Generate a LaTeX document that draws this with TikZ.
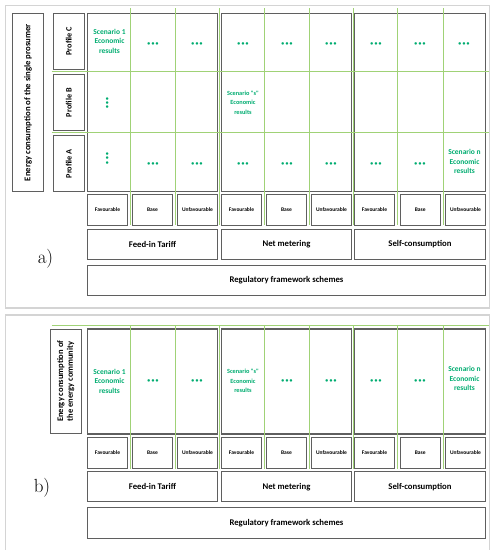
\documentclass[tikz,border=0pt]{standalone}
\usepackage{fontspec}
\newfontfamily\calfont{Carlito}
\definecolor{gline}{RGB}{160,210,118}
\definecolor{gtext}{RGB}{0,172,112}
\definecolor{bord}{RGB}{95,95,95}
\definecolor{frm}{RGB}{212,212,212}
\newcommand\tdots{•\kern1.2pt•\kern1.2pt•}
\tikzset{
  frame/.style={draw=frm, line width=1.6pt},
  box/.style={draw=bord, line width=0.9pt, inner sep=0pt, outer sep=0pt, align=center,
              font=\calfont\bfseries\fontsize{8.7}{10}\selectfont},
  grp/.style={draw=bord, line width=1.3pt, inner sep=0pt, outer sep=0pt},
  smallbox/.style={box, line width=0.8pt, minimum width=40pt, font=\calfont\bfseries\fontsize{5.5}{6}\selectfont},
  profbox/.style={box, rotate=90, minimum width=56pt, minimum height=30.7pt, font=\calfont\bfseries\fontsize{8.2}{9}\selectfont},
  scen/.style={align=center, text=gtext, inner sep=0pt, font=\calfont\bfseries\fontsize{7.5}{9.5}\selectfont},
  scens/.style={align=center, text=gtext, inner sep=0pt, font=\calfont\bfseries\fontsize{6.3}{9.5}\selectfont},
  dotsh/.style={text=gtext, inner sep=0pt, font=\calfont\bfseries\fontsize{5.8}{6}\selectfont},
  dotsv/.style={dotsh, rotate=90},
  gl/.style={draw=gline, line width=1pt},
  panel/.style={inner sep=0pt, font=\fontsize{19}{20}\selectfont}
}
\begin{document}
\begin{tikzpicture}[x=1pt,y=-1pt]
\useasboundingbox (0,0) rectangle (501,550);
% outer frames
\draw[frame] (5.5,5.5) rectangle (489.5,308);
\draw[frame] (5.5,556) -- (5.5,315) -- (489.5,315) -- (489.5,556);

% ================= panel a =================
\node[box, rotate=90, minimum width=178.4pt, minimum height=30.6pt] (bigA) at (28,102.5) {Energy consumption of the single prosumer};
\node[profbox] (profC) at (68.7,41.3) {Profile C};
\node[profbox] (profB) at (68.7,102.7) {Profile B};
\node[profbox] (profA) at (68.7,163.7) {Profile A};

\node[grp, minimum width=130pt, minimum height=178.4pt] (g1a) at (152.5,102.5) {};
\node[grp, minimum width=130pt, minimum height=178.4pt] (g2a) at (286.5,102.5) {};
\node[grp, minimum width=131pt, minimum height=178.4pt] (g3a) at (420,102.5) {};

\foreach \x/\t [count=\i] in {107.5/Favourable,152.5/Base,197.5/Unfavourable,241.5/Favourable,286.5/Base,331.5/Unfavourable,374.5/Favourable,420.25/Base,465.5/Unfavourable}
  \node[smallbox, minimum height=30.7pt] (fa\i) at (\x,209.7) {\t};

\node[box, minimum width=130pt, minimum height=30.3pt] (fita) at (152.5,244.2) {Feed-in Tariff};
\node[box, minimum width=130pt, minimum height=30.3pt] (nma) at (286.5,244.2) {Net metering};
\node[box, minimum width=131pt, minimum height=30.3pt] (sca) at (420,244.2) {Self-consumption};
\node[box, minimum width=398pt, minimum height=30.7pt] (rega) at (286.5,280.3) {Regulatory framework schemes};

\node[panel] (la) at (45.5,259) {a)};

% green grid a
\foreach \x [count=\i] in {130,175,219.5,264,309,353,397.5,443}
  \draw[gl] (\x,8) coordinate (vat\i) -- (\x,225) coordinate (vab\i);
\coordinate (hal1) at (51.7,71); \coordinate (har1) at (488.5,71);
\coordinate (hal2) at (51.7,132.6); \coordinate (har2) at (488.5,132.6);
\draw[gl] (hal1) -- (har1);
\draw[gl] (hal2) -- (har2);

% cell contents a
\node[scen] (sa1) at (109.5,41.3) {Scenario 1\\Economic\\results};
\foreach \x [count=\i] in {153,197,243,287,331,376,420,464}
  \node[dotsh] (dC\i) at (\x,44) {\tdots};
\node[dotsv] (dB1) at (107.5,102.7) {\tdots};
\node[scens] (ssa) at (243,102.5) {Scenario "s"\\Economic\\results};
\node[dotsv] (dA1) at (107.5,158.5) {\tdots};
\foreach \x [count=\i] in {153,197,243,287,331,376,420}
  \node[dotsh] (dA\i x) at (\x,164.5) {\tdots};
\node[scen] (sna) at (464.5,161.5) {Scenario n\\Economic\\results};

% ================= panel b =================
\node[box, rotate=90, minimum width=104pt, minimum height=31.7pt, font=\calfont\bfseries\fontsize{8.5}{9.7}\selectfont] (bigB) at (65.8,381.3) {Energy consumption of\\the energy community};

\node[grp, minimum width=130pt, minimum height=105pt] (g1b) at (152.5,381.5) {};
\node[grp, minimum width=130pt, minimum height=105pt] (g2b) at (286.5,381.5) {};
\node[grp, minimum width=131pt, minimum height=105pt] (g3b) at (420,381.5) {};

\foreach \x/\t [count=\i] in {107.5/Favourable,152.5/Base,197.5/Unfavourable,241.5/Favourable,286.5/Base,331.5/Unfavourable,374.5/Favourable,420.25/Base,465.5/Unfavourable}
  \node[smallbox, minimum height=31pt] (fb\i) at (\x,452.8) {\t};

\node[box, minimum width=130pt, minimum height=30pt] (fitb) at (152.5,486.7) {Feed-in Tariff};
\node[box, minimum width=130pt, minimum height=30pt] (nmb) at (286.5,486.7) {Net metering};
\node[box, minimum width=131pt, minimum height=30pt] (scb) at (420,486.7) {Self-consumption};
\node[box, minimum width=398pt, minimum height=30.6pt] (regb) at (286.5,523) {Regulatory framework schemes};

\node[panel] (lb) at (42,487.5) {b)};

% green grid b
\foreach \x [count=\i] in {130,175,219.5,264,309,353,397.5,443}
  \draw[gl] (\x,325) coordinate (vbt\i) -- (\x,468.5) coordinate (vbb\i);
\coordinate (hbl) at (51.7,325); \coordinate (hbr) at (489,325);
\draw[gl] (hbl) -- (hbr);

% cell contents b
\node[scen] (sb1) at (109.5,381) {Scenario 1\\Economic\\results};
\node[dotsh] (db2) at (153,381) {\tdots};
\node[dotsh] (db3) at (197,381) {\tdots};
\node[scens] (ssb) at (243,381) {Scenario "s"\\Economic\\results};
\node[dotsh] (db5) at (287,381) {\tdots};
\node[dotsh] (db6) at (331,381) {\tdots};
\node[dotsh] (db7) at (376,381) {\tdots};
\node[dotsh] (db8) at (420,381) {\tdots};
\node[scen] (snb) at (464.5,378.5) {Scenario n\\Economic\\results};
\end{tikzpicture}
\end{document}
